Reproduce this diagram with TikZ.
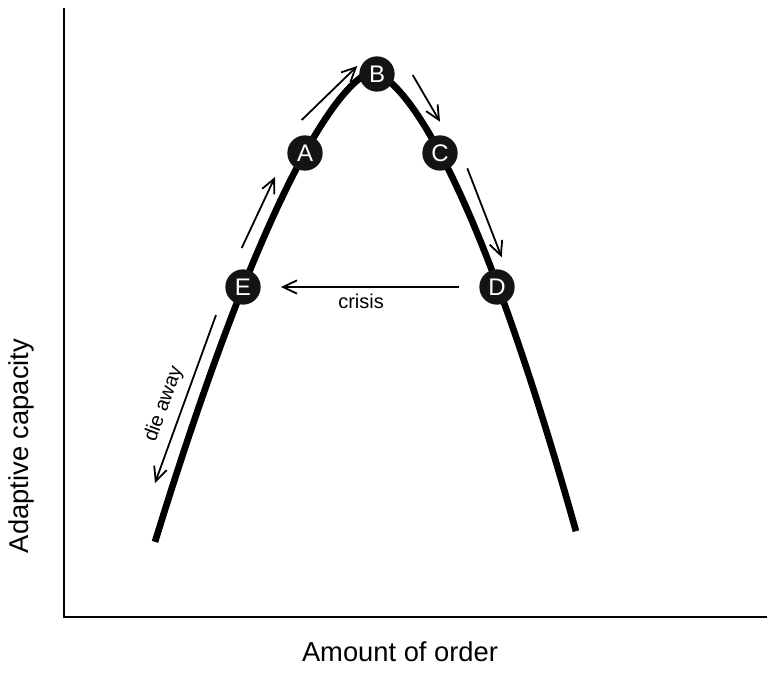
\documentclass[tikz,border=0pt]{standalone}
\usepackage{fontspec}
\setmainfont{Liberation Sans}
\usetikzlibrary{arrows.meta}

\begin{document}
\begin{tikzpicture}[x=0.75pt, y=-0.75pt, >={Straight Barb[length=10.5pt,width=10pt]},
  stage/.style={circle, fill=black!92, text=white, inner sep=0pt, minimum size=26.5pt, font=\fontsize{18}{18}\selectfont},
  trend/.style={->, line width=1.35pt},
  small/.style={font=\fontsize{15}{18}\selectfont}]

  \useasboundingbox (0,0) rectangle (767,672);

  % --- 1. axes ---
  \coordinate (O) at (64,617);
  \coordinate (Ytop) at (64,8);
  \coordinate (Xend) at (767,617);
  \draw[line width=1.5pt] (Ytop) -- (O) -- (Xend);
  \node[rotate=90, font=\fontsize{20.5}{24}\selectfont] (ylab) at (21,446) {Adaptive capacity};
  \node[font=\fontsize{20.5}{24}\selectfont] (xlab) at (400,652) {Amount of order};

  % --- 2. curve (left and right branches) ---
  \draw[line width=5pt, domain=217:0.01, samples=80, smooth]
    plot ({372-\x},{72+0.147*\x^1.5})
    -- plot[domain=0.01:204] ({372+\x},{72+0.103*\x^1.58});

  % --- 3. stages on the curve ---
  \node[stage] (B) at (377,74) {B};
  \node[stage] (A) at (305,153) {A};
  \node[stage] (C) at (440,153) {C};
  \node[stage] (E) at (243,287) {E};
  \node[stage] (D) at (497,287) {D};

  % --- 4. arrows along the curve ---
  \coordinate (ea1) at (241.7,248);  \coordinate (ea2) at (275,177);
  \coordinate (ab1) at (301.7,120);  \coordinate (ab2) at (357.3,66);
  \coordinate (bc1) at (412.7,75);   \coordinate (bc2) at (440,121.7);
  \coordinate (cd1) at (467.3,168.3); \coordinate (cd2) at (501.7,257.3);
  \coordinate (die1) at (216,315);   \coordinate (die2) at (155,483);

  \draw[trend] (ea1) -- (ea2);
  \draw[trend] (ab1) -- (ab2);
  \draw[trend] (bc1) -- (bc2);
  \draw[trend] (cd1) -- (cd2);
  \draw[trend] (die1) -- (die2);
  \node[small, rotate=70] (dielab) at (164,404) {die away};

  % crisis: back from D to E
  \draw[trend] ([xshift=-15pt]D.west) -- ([xshift=15pt]E.east)
    node[small, pos=0.55, below=1pt] (crisis) {crisis};

\end{tikzpicture}
\end{document}
